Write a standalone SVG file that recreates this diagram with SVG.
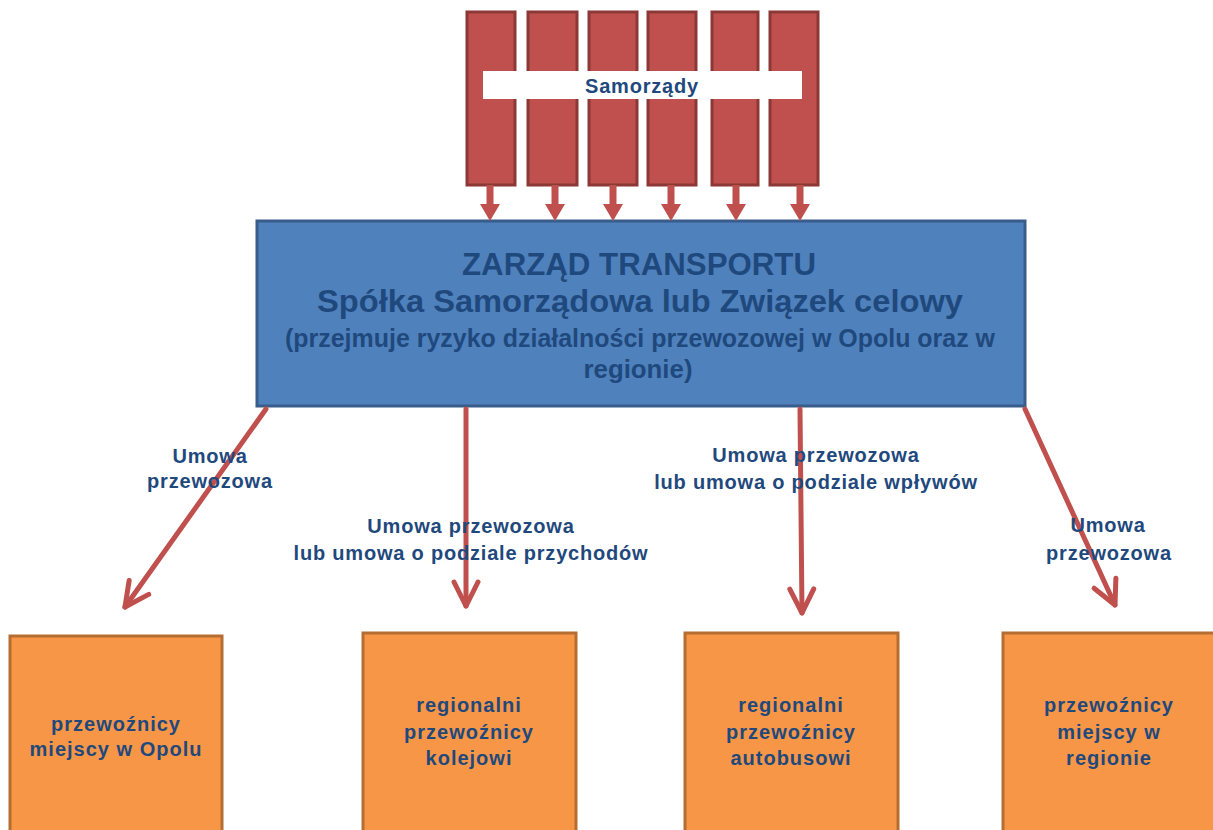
<svg xmlns="http://www.w3.org/2000/svg" width="1213" height="830" viewBox="0 0 1213 830">
<style>
.col{fill:#C0504D;stroke:#8C3836;stroke-width:3}
.band{fill:#FFFFFF}
.main{fill:#4F81BD;stroke:#385D8A;stroke-width:3}
.org{fill:#F79646;stroke:#B66D31;stroke-width:3}
.t{font-family:"Liberation Sans",Arial,sans-serif;font-weight:bold;fill:#1F497D;text-anchor:middle}
.big{font-size:31px}
.big2{font-size:32px}
.mid{font-size:25px}
.lbl{font-size:20px;letter-spacing:0.8px}
.box{font-size:20px;letter-spacing:1px}
.sam{font-size:20px;letter-spacing:0.8px}
.conn{stroke:#C0504D;stroke-width:5;fill:none;stroke-linecap:round}
.sa{fill:#C0504D}
</style>
<defs>
<marker id="open" markerUnits="userSpaceOnUse" viewBox="-30 -16 34 32" refX="0" refY="0" markerWidth="34" markerHeight="32" orient="auto">
<path d="M-24,-12 L0,0 L-24,12" fill="none" stroke="#C0504D" stroke-width="5" stroke-linecap="round" stroke-linejoin="round"/>
</marker>
</defs>
<g id="samorzady">
<rect class="col" x="467" y="12" width="48" height="173"/>
<rect class="col" x="528" y="12" width="49" height="173"/>
<rect class="col" x="589" y="12" width="48" height="173"/>
<rect class="col" x="648" y="12" width="48" height="173"/>
<rect class="col" x="712" y="12" width="46" height="173"/>
<rect class="col" x="770" y="12" width="48" height="173"/>
<rect class="band" x="483" y="71" width="319" height="28"/>
<text class="t sam" x="642" y="93">Samorządy</text>
</g>
<g id="zarzad">
<rect class="main" x="257" y="221" width="768" height="185"/>
<text class="t big" x="639" y="275" textLength="354" lengthAdjust="spacingAndGlyphs">ZARZĄD TRANSPORTU</text>
<text class="t big2" x="640" y="312" textLength="646" lengthAdjust="spacingAndGlyphs">Spółka Samorządowa lub Związek celowy</text>
<text class="t mid" x="640" y="347" textLength="710" lengthAdjust="spacingAndGlyphs">(przejmuje ryzyko działalności przewozowej w Opolu oraz w</text>
<text class="t mid" x="638" y="378" textLength="109" lengthAdjust="spacingAndGlyphs">regionie)</text>
</g>
<g id="box1">
<rect class="org" x="10" y="636" width="212" height="200"/>
<text class="t box" x="116" y="731">przewoźnicy</text>
<text class="t box" x="116" y="756">miejscy w Opolu</text>
</g>
<g id="box2">
<rect class="org" x="363" y="633" width="213" height="200"/>
<text class="t box" x="469" y="712">regionalni</text>
<text class="t box" x="469" y="739">przewoźnicy</text>
<text class="t box" x="469" y="765">kolejowi</text>
</g>
<g id="box3">
<rect class="org" x="685" y="633" width="213" height="200"/>
<text class="t box" x="791" y="712">regionalni</text>
<text class="t box" x="791" y="739">przewoźnicy</text>
<text class="t box" x="791" y="765">autobusowi</text>
</g>
<g id="box4">
<rect class="org" x="1003" y="633" width="215" height="200"/>
<text class="t box" x="1109" y="712">przewoźnicy</text>
<text class="t box" x="1109" y="739">miejscy w</text>
<text class="t box" x="1109" y="765">regionie</text>
</g>
<g id="connectors">
<polygon class="sa" points="486.5,185 493.5,185 493.5,204 500,204 490,221 480,204 486.5,204"/>
<polygon class="sa" points="551.5,185 558.5,185 558.5,204 565,204 555,221 545,204 551.5,204"/>
<polygon class="sa" points="609.5,185 616.5,185 616.5,204 623,204 613,221 603,204 609.5,204"/>
<polygon class="sa" points="667.5,185 674.5,185 674.5,204 681,204 671,221 661,204 667.5,204"/>
<polygon class="sa" points="732.5,185 739.5,185 739.5,204 746,204 736,221 726,204 732.5,204"/>
<polygon class="sa" points="796.5,185 803.5,185 803.5,204 810,204 800,221 790,204 796.5,204"/>
<line class="conn" x1="266" y1="409" x2="125" y2="607" marker-end="url(#open)"/>
<line class="conn" x1="466" y1="409" x2="466" y2="606" marker-end="url(#open)"/>
<line class="conn" x1="800" y1="409" x2="802" y2="613" marker-end="url(#open)"/>
<line class="conn" x1="1025" y1="409" x2="1115" y2="605" marker-end="url(#open)"/>
<text class="t lbl" x="210" y="463">Umowa</text>
<text class="t lbl" x="210" y="488">przewozowa</text>
<text class="t lbl" x="471" y="533">Umowa przewozowa</text>
<text class="t lbl" x="471" y="560">lub umowa o podziale przychodów</text>
<text class="t lbl" x="816" y="462">Umowa przewozowa</text>
<text class="t lbl" x="816" y="489">lub umowa o podziale wpływów</text>
<text class="t lbl" x="1108" y="532">Umowa</text>
<text class="t lbl" x="1109" y="560">przewozowa</text>
</g>
</svg>
